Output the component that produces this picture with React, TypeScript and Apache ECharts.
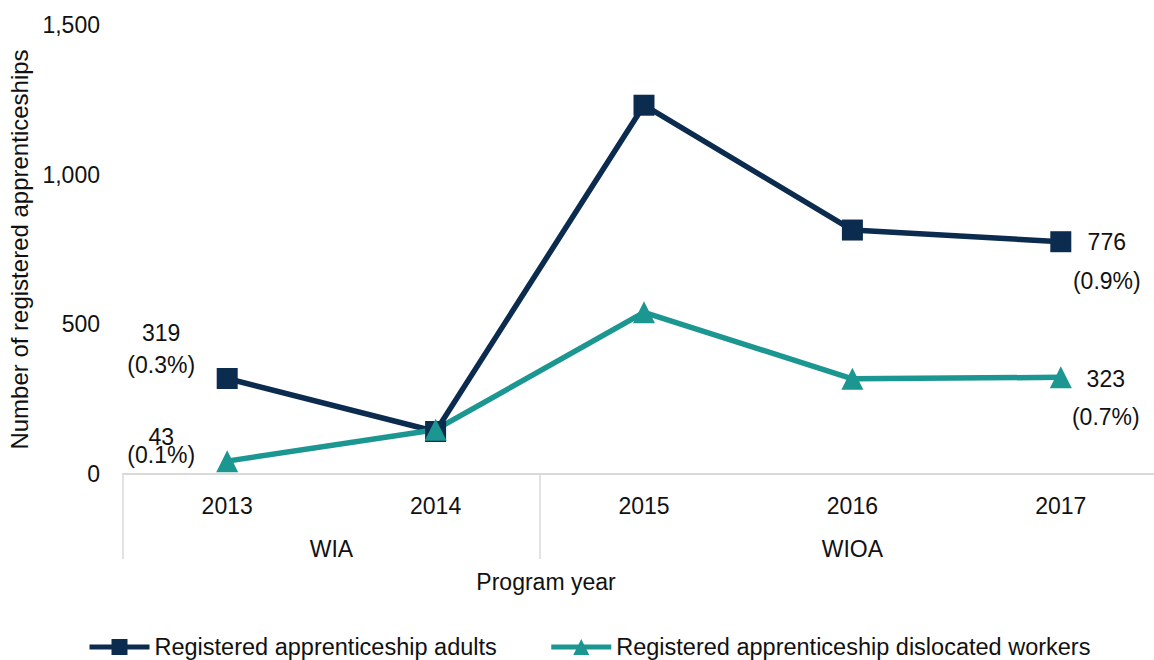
import React, { useEffect, useRef } from "react";
import * as echarts from "echarts";

const years = ["2013", "2014", "2015", "2016", "2017"];
const adults = [319, 142, 1232, 815, 776];
const dislocated = [43, 148, 540, 318, 323];
const adultsPct = ["0.3%", "", "", "", "0.9%"];
const dislocatedPct = ["0.1%", "", "", "", "0.7%"];
const groupNames = ["WIA", "WIOA"];
const groupBounds = [0, 2, 5];
const groupCenters = [1, 3.5];

const NAVY = "#0c2c4f";
const TEAL = "#1b9690";
const FONT = "'Liberation Sans', Arial, sans-serif";
const TXT = "#111";

export default function App() {
  const ref = useRef<HTMLDivElement>(null);
  useEffect(() => {
    document.body.style.margin = "0";
    const chart = echarts.init(ref.current!, null, { renderer: "svg" });

    const labelCfg = (offset: number[], lh: number) => ({
      show: true,
      position: "inside",
      offset,
      align: "center",
      verticalAlign: "middle",
      fontSize: 23,
      lineHeight: lh,
      color: TXT,
      fontFamily: FONT,
    });

    const adultsData = adults.map((v, i) => {
      const item: any = { value: v };
      if (adultsPct[i]) {
        item.label = {
          ...labelCfg(i === 0 ? [-66, -30] : [46, 20], i === 0 ? 32 : 39),
          formatter: `${v}\n(${adultsPct[i]})`,
        };
      }
      return item;
    });
    const dislocatedData = dislocated.map((v, i) => {
      const item: any = { value: v };
      if (dislocatedPct[i]) {
        item.label = {
          ...labelCfg(i === 0 ? [-66, -15] : [45, 21], i === 0 ? 18 : 38),
          formatter: `${v}\n(${dislocatedPct[i]})`,
        };
      }
      return item;
    });

    chart.setOption({
      animation: false,
      textStyle: { fontFamily: FONT },
      grid: {
        left: 123,
        top: 25,
        width: 1042,
        height: 449,
        containLabel: false,
        outerBoundsMode: "none",
      },
      legend: {
        left: 82,
        top: 630,
        itemWidth: 60,
        itemHeight: 20,
        itemGap: 52,
        lineStyle: { width: 5 },
        textStyle: { fontSize: 23.5, color: TXT, fontFamily: FONT },
        data: ["Registered apprenticeship adults", "Registered apprenticeship dislocated workers"],
      },
      xAxis: [
        {
          type: "category",
          data: years,
          boundaryGap: true,
          axisLine: { show: true, lineStyle: { color: "#d9d9d9", width: 2 } },
          axisTick: { show: false },
          axisLabel: { fontSize: 23, color: TXT, margin: 20, fontFamily: FONT },
          splitLine: { show: false },
        },
        {
          type: "value",
          position: "bottom",
          min: 0,
          max: 5,
          axisLine: { show: false },
          axisTick: {
            show: true,
            customValues: groupBounds,
            length: 85,
            lineStyle: { color: "#d9d9d9", width: 1.5 },
          },
          axisLabel: {
            show: true,
            customValues: groupCenters,
            formatter: (v: number) => groupNames[groupCenters.indexOf(v)] ?? "",
            fontSize: 23,
            color: TXT,
            margin: 63,
            fontFamily: FONT,
          },
          splitLine: { show: false },
        },
      ],
      yAxis: {
        type: "value",
        min: 0,
        max: 1500,
        interval: 500,
        name: "Number of registered apprenticeships",
        nameLocation: "middle",
        nameGap: 88,
        nameTextStyle: { fontSize: 24, color: TXT, fontFamily: FONT },
        axisLine: { show: false },
        axisTick: { show: false },
        splitLine: { show: false },
        axisLabel: {
          fontSize: 23,
          color: TXT,
          margin: 23,
          fontFamily: FONT,
          formatter: (v: number) => v.toLocaleString("en-US"),
        },
      },
      graphic: [
        {
          type: "text",
          x: 546,
          y: 582,
          style: {
            text: "Program year",
            fontSize: 23,
            fill: TXT,
            fontFamily: FONT,
            textAlign: "center",
            textVerticalAlign: "middle",
          },
        },
      ],
      series: [
        {
          name: "Registered apprenticeship adults",
          type: "line",
          data: adultsData,
          symbol: "rect",
          symbolSize: 21,
          color: NAVY,
          lineStyle: { width: 5.5, color: NAVY },
          itemStyle: { color: NAVY },
        },
        {
          name: "Registered apprenticeship dislocated workers",
          type: "line",
          data: dislocatedData,
          symbol: "triangle",
          symbolSize: 22,
          color: TEAL,
          lineStyle: { width: 5.5, color: TEAL },
          itemStyle: { color: TEAL },
        },
      ],
    });
    return () => chart.dispose();
  }, []);
  return <div ref={ref} style={{ width: 1154, height: 660 }} />;
}
